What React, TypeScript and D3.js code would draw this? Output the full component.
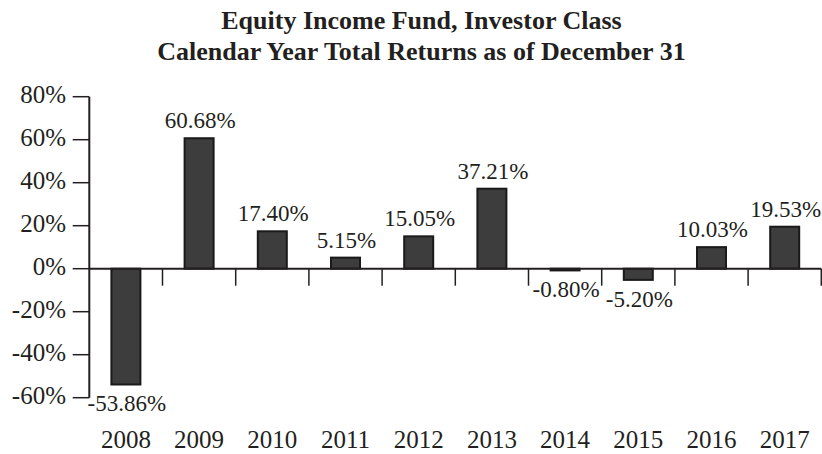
import React from "react";
import * as d3 from "d3";

const years = ["2008", "2009", "2010", "2011", "2012", "2013", "2014", "2015", "2016", "2017"];
const returns = [-53.86, 60.68, 17.4, 5.15, 15.05, 37.21, -0.8, -5.2, 10.03, 19.53];
const yTicks = [80, 60, 40, 20, 0, -20, -40, -60];
const titleLines = ["Equity Income Fund, Investor Class", "Calendar Year Total Returns as of December 31"];

const W = 822;
const H = 454;
const FONT = "'Liberation Serif', 'Times New Roman', serif";
const INK = "#231f20";

export default function App() {
  const x = d3.scaleBand<string>().domain(years).range([89.3, 821.3]).paddingInner(0).paddingOuter(0);
  const y = d3.scaleLinear().domain([-60, 80]).range([397.7, 96.7]);
  const step = x.step();
  const barW = 29;
  const y0 = y(0);

  return (
    <svg
      width={W}
      height={H}
      style={{ position: "absolute", left: 0, top: 0, display: "block", background: "#fff" }}
    >
      {titleLines.map((t, i) => (
        <text
          key={t}
          x={421.5}
          y={29 + i * 31}
          textAnchor="middle"
          fontFamily={FONT}
          fontWeight="bold"
          fontSize={26}
          fill={INK}
        >
          {t}
        </text>
      ))}

      {/* y axis */}
      <line x1={x.range()[0]} x2={x.range()[0]} y1={y(80)} y2={y(-60)} stroke={INK} strokeWidth={2} />
      {yTicks.map((t) => (
        <g key={t}>
          <line x1={72.7} x2={x.range()[0]} y1={y(t)} y2={y(t)} stroke={INK} strokeWidth={1.5} />
          <text
            x={66}
            y={y(t) + 6}
            textAnchor="end"
            fontFamily={FONT}
            fontSize={25}
            fill={INK}
          >
            {`${t}%`}
          </text>
        </g>
      ))}

      {/* bars */}
      {years.map((yr, i) => {
        const v = returns[i];
        const cx = (x(yr) as number) + step / 2;
        const top = Math.min(y(v), y0);
        const h = Math.abs(y(v) - y0);
        return (
          <rect
            key={yr}
            x={cx - barW / 2}
            y={top}
            width={barW}
            height={h}
            fill="#3d3d3d"
            stroke="#1a1a1a"
            strokeWidth={2}
          />
        );
      })}

      {/* x axis */}
      <line x1={x.range()[0]} x2={x.range()[1]} y1={y0} y2={y0} stroke={INK} strokeWidth={2} />
      {years.map((yr) => {
        const bx = (x(yr) as number) + step;
        return <line key={yr} x1={bx} x2={bx} y1={y0} y2={y0 + 17} stroke={INK} strokeWidth={1.5} />;
      })}

      {/* value labels */}
      {years.map((yr, i) => {
        const v = returns[i];
        const cx = (x(yr) as number) + step / 2;
        const ly = v >= 0 ? y(v) - 10 : y(v) + 27;
        return (
          <text
            key={yr}
            x={cx + 1}
            y={ly}
            textAnchor="middle"
            fontFamily={FONT}
            fontSize={23}
            fill={INK}
          >
            {`${v.toFixed(2)}%`}
          </text>
        );
      })}

      {/* year labels */}
      {years.map((yr) => (
        <text
          key={yr}
          x={(x(yr) as number) + step / 2}
          y={448}
          textAnchor="middle"
          fontFamily={FONT}
          fontSize={25}
          fill={INK}
        >
          {yr}
        </text>
      ))}
    </svg>
  );
}
